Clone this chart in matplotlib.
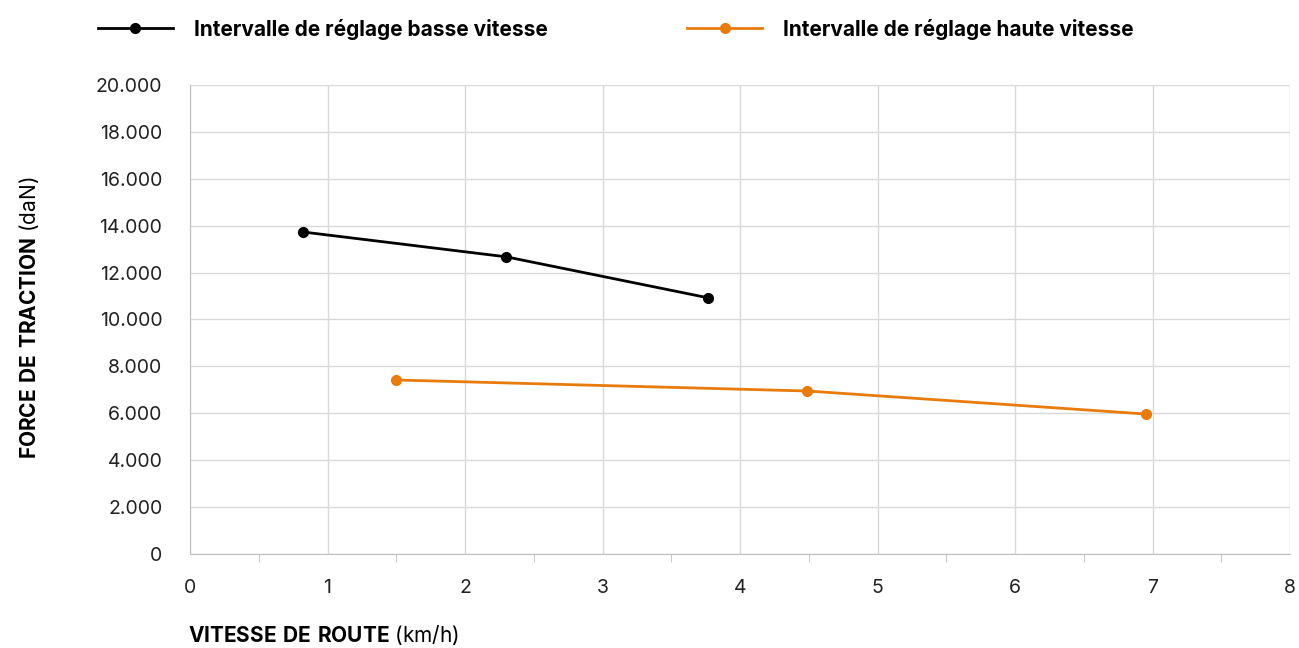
import matplotlib.pyplot as plt
from matplotlib.ticker import FuncFormatter, MultipleLocator

# vitesse (km/h) / force (daN)
basse_x = [0.82, 2.30, 3.77]
basse_y = [13730, 12670, 10920]
haute_x = [1.50, 4.49, 6.95]
haute_y = [7420, 6950, 5970]

plt.rcParams['font.family'] = ['Inter', 'DejaVu Sans']
plt.rcParams['mathtext.fontset'] = 'custom'
plt.rcParams['mathtext.rm'] = 'Inter'
plt.rcParams['mathtext.bf'] = 'Inter:bold'

fig = plt.figure(figsize=(12.99, 6.48), dpi=100)
ax = fig.add_axes([0.1463, 0.145, 0.8468, 0.724])

ax.plot(basse_x, basse_y, color="black", lw=2, marker="o", ms=7,
        label="Intervalle de réglage basse vitesse")
ax.plot(haute_x, haute_y, color="#e87b0c", lw=2, marker="o", ms=7,
        label="Intervalle de réglage haute vitesse")

ax.set_xlim(0, 8)
ax.set_ylim(0, 20000)
ax.xaxis.set_major_locator(MultipleLocator(1))
ax.xaxis.set_minor_locator(MultipleLocator(0.5))
ax.yaxis.set_major_locator(MultipleLocator(2000))
ax.yaxis.set_major_formatter(FuncFormatter(lambda v, p: f"{int(v):,}".replace(",", ".")))

ax.grid(True, which="major", color="#d9d9d9", lw=1)
ax.set_axisbelow(True)
for s in ["top", "right"]:
    ax.spines[s].set_visible(False)
for s in ["left", "bottom"]:
    ax.spines[s].set_color("#bfbfbf")
ax.tick_params(axis="x", which="major", length=0, pad=18, labelsize=14)
ax.tick_params(axis="x", which="minor", length=6, color="#bfbfbf")
ax.tick_params(axis="y", length=0, pad=20, labelsize=14)
for t in ax.get_xticklabels() + ax.get_yticklabels():
    t.set_color("#222222")

fig.text(0.1445, 0.010, r"$\bf{VITESSE\ DE\ ROUTE}$ (km/h)", fontsize=15, ha="left")
fig.text(0.022, 0.51, r"$\bf{FORCE\ DE\ TRACTION}$ (daN)", fontsize=15,
         rotation=90, va="center", ha="center")

leg = fig.legend(loc="upper left", bbox_to_anchor=(0.061, 1.0), ncol=2, frameon=False,
                 fontsize=15, handlelength=3.6, columnspacing=6.7, handletextpad=1.0)
for t in leg.get_texts():
    t.set_fontweight("bold")

plt.savefig("out.png", dpi=100)
